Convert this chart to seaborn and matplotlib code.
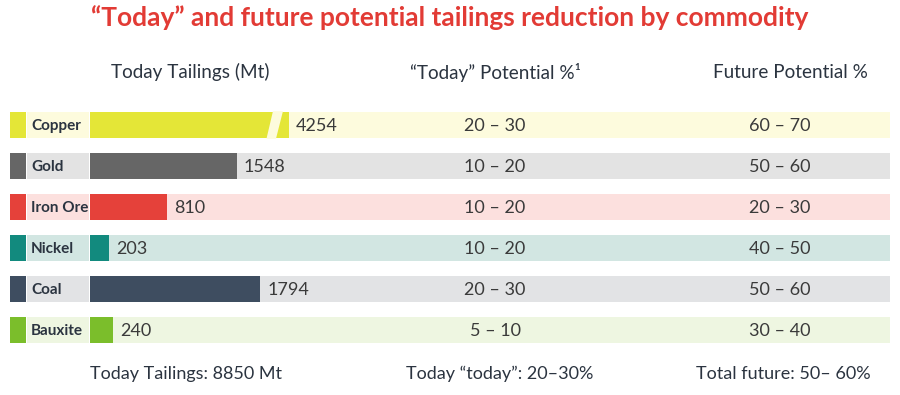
import matplotlib
matplotlib.use("Agg")
import matplotlib.pyplot as plt
import seaborn as sns
import pandas as pd
from matplotlib.patches import Rectangle, Polygon

# ---- data ----
commodities = ["Copper", "Gold", "Iron Ore", "Nickel", "Coal", "Bauxite"]
tailings_mt = [4254, 1548, 810, 203, 1794, 240]
today_potential = ["20 – 30", "10 – 20", "10 – 20", "10 – 20", "20 – 30", "5 – 10"]
future_potential = ["60 – 70", "50 – 60", "20 – 30", "40 – 50", "50 – 60", "30 – 40"]
headers = ["Today Tailings (Mt)", "“Today” Potential %¹", "Future Potential %"]
totals = ["Today Tailings: 8850 Mt", "Today “today”: 20–30%", "Total future: 50– 60%"]
title = "“Today” and future potential tailings reduction by commodity"
bar_cap = 2095  # longest bar shown (axis break on larger values)

bar_colors = ["#E4E637", "#666666", "#E5413A", "#128A7E", "#3E4D60", "#7BBE2B"]
band_colors = ["#FDFBDD", "#E3E3E3", "#FCE0DE", "#D2E6E2", "#E2E3E5", "#EEF6E1"]

sns.set_theme(style="white")
plt.rcParams["font.family"] = ["Lato", "DejaVu Sans"]

W, H = 900, 395
fig = plt.figure(figsize=(W / 100, H / 100), dpi=100)
ax = fig.add_axes([0, 0, 1, 1])

S = 10.53  # Mt per pixel
def px_x(p):
    return (p - 90) * S
def py(p):
    return (p - 125) / 41.0

display_vals = [min(v, bar_cap) for v in tailings_mt]
df = pd.DataFrame({"commodity": commodities, "shown": display_vals, "value": tailings_mt})

bh = 26 / 41.0
# row bands
for i, c in enumerate(commodities):
    ax.add_patch(Rectangle((px_x(10), i - bh / 2), px_x(26) - px_x(10), bh,
                           color=bar_colors[i], zorder=0.5, lw=0))
    ax.add_patch(Rectangle((px_x(27), i - bh / 2), px_x(89) - px_x(27), bh,
                           color=band_colors[i], zorder=0.5, lw=0))
    ax.add_patch(Rectangle((px_x(90), i - bh / 2), px_x(890) - px_x(90), bh,
                           color=band_colors[i], zorder=0.5, lw=0))

sns.barplot(data=df, x="shown", y="commodity", hue="commodity", palette=bar_colors,
            order=commodities, hue_order=commodities, legend=False, orient="h",
            width=bh, saturation=1, ax=ax, zorder=2, linewidth=0)

# axis break on capped bars
for i, (v, s) in enumerate(zip(tailings_mt, display_vals)):
    if v > s:
        top, bot = i - bh / 2 - 0.02, i + bh / 2 + 0.02
        pts = [(s - 16 * S, top), (s - 6 * S, top), (s - 13 * S, bot), (s - 22.5 * S, bot)]
        ax.add_patch(Polygon(pts, closed=True, color=band_colors[i], zorder=3, lw=0))

ax.set_xlim(px_x(0), px_x(W))
ax.set_ylim(py(H), py(0))
ax.axis("off")

dark = "#2B3440"
valc = "#3A3A3A"
for i, c in enumerate(commodities):
    ax.text(px_x(31), i + 0.02, c, ha="left", va="center", fontsize=11,
            fontweight="bold", color=dark, zorder=4)
    ax.text(display_vals[i] + 7 * S, i + 0.03, f"{tailings_mt[i]}", ha="left", va="center",
            fontsize=13, color=valc, zorder=4)
    ax.text(px_x(495), i + 0.03, today_potential[i], ha="center", va="center",
            fontsize=13, color=valc, zorder=4)
    ax.text(px_x(780), i + 0.03, future_potential[i], ha="center", va="center",
            fontsize=13, color=valc, zorder=4)

for x, t in zip([190, 495, 790], headers):
    fig.text(x / W, 1 - 72 / H, t, ha="center", va="center", fontsize=13.6, color=dark)
for x, t in zip([186, 500, 783], totals):
    fig.text(x / W, 1 - 374 / H, t, ha="center", va="center", fontsize=13, color=dark)

fig.text(450 / W, 1 - 18 / H, title, ha="center", va="center", fontsize=19,
         fontweight="bold", color="#E23B35")

fig.savefig("out.png", dpi=100)
